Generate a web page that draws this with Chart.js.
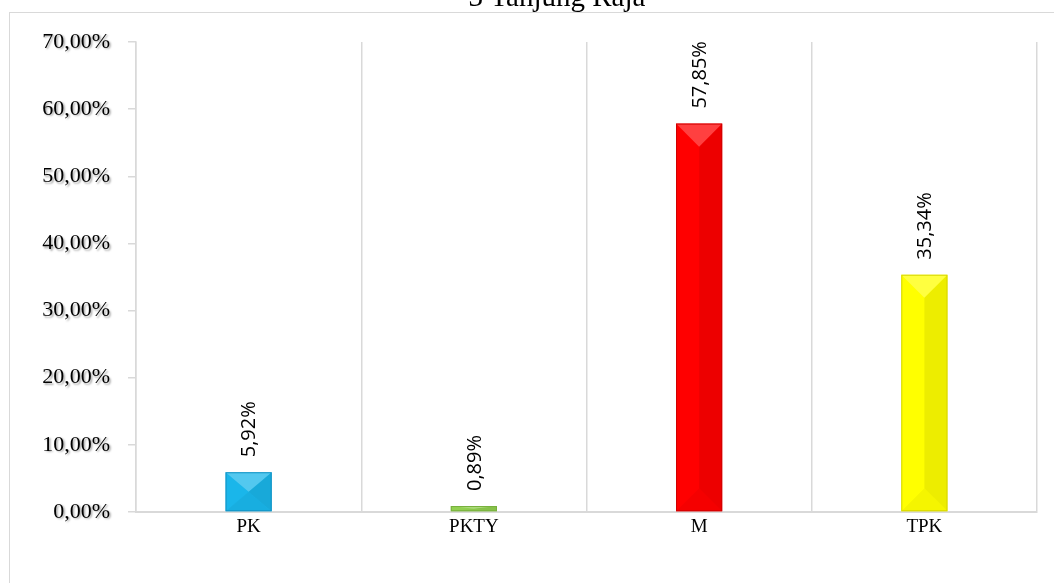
<!DOCTYPE html>
<html>
<head>
<meta charset="utf-8">
<script src="https://cdn.jsdelivr.net/npm/chart.js@4"></script>
<style>
  html, body { margin: 0; padding: 0; background: #fff; overflow: hidden; }
  #wrap { position: absolute; left: 0; top: 0; width: 1054px; height: 583px; }
</style>
</head>
<body>
<div id="wrap"><canvas id="myChart" width="1054" height="583"></canvas></div>
<script>
const labels = ['PK', 'PKTY', 'M', 'TPK'];
const values = [5.92, 0.89, 57.85, 35.34];
const valueLabels = ['5,92%', '0,89%', '57,85%', '35,34%'];
const barColors = ['#1ab6ea', '#92d050', '#ff0000', '#ffff00'];
const barEdges = ['#1392c4', '#77b03e', '#d00000', '#d6d600'];
const titleText = '3 Tanjung Raja';

const fmt = v => v.toFixed(2).replace('.', ',') + '%';

// outer frame + cut-off title
const framePlugin = {
  id: 'frame',
  beforeDraw(chart) {
    const ctx = chart.ctx;
    ctx.save();
    ctx.strokeStyle = '#d9d9d9';
    ctx.lineWidth = 1;
    ctx.strokeRect(9.5, 12.5, 1100, 600);
    ctx.fillStyle = '#000';
    ctx.font = '29px "Liberation Serif", "Times New Roman", serif';
    ctx.textAlign = 'center';
    ctx.textBaseline = 'alphabetic';
    ctx.fillText(titleText, 557, 6);
    ctx.restore();
  },
  afterUpdate(chart) {
    // soft shadow under the y tick labels
    const y = chart.scales.y;
    const base = Object.getPrototypeOf(y).drawLabels;
    y.drawLabels = function (area) {
      const ctx = this.ctx;
      ctx.save();
      ctx.shadowColor = 'rgba(0,0,0,0.35)';
      ctx.shadowOffsetX = 1.5;
      ctx.shadowOffsetY = 1.5;
      ctx.shadowBlur = 2;
      base.call(this, area);
      ctx.restore();
    };
  }
};

// pyramid bevel on each bar + rotated value labels
const bevelPlugin = {
  id: 'bevel',
  afterDatasetsDraw(chart) {
    const ctx = chart.ctx;
    const meta = chart.getDatasetMeta(0);
    meta.data.forEach((bar, i) => {
      const p = bar.getProps(['x', 'y', 'base', 'width'], true);
      const l = p.x - p.width / 2, r = p.x + p.width / 2;
      const t = p.y, b = p.base;
      const d = Math.min(p.width / 2, (b - t) / 2);
      ctx.save();
      // top light triangle
      ctx.fillStyle = 'rgba(255,255,255,0.25)';
      ctx.beginPath();
      ctx.moveTo(l, t); ctx.lineTo(r, t); ctx.lineTo(p.x, t + d); ctx.closePath(); ctx.fill();
      // right darker side
      ctx.fillStyle = 'rgba(0,0,0,0.07)';
      ctx.beginPath();
      ctx.moveTo(r, t); ctx.lineTo(p.x, t + d); ctx.lineTo(p.x, b - d); ctx.lineTo(r, b); ctx.closePath(); ctx.fill();
      // bottom triangle
      ctx.fillStyle = 'rgba(0,0,0,0.04)';
      ctx.beginPath();
      ctx.moveTo(l, b); ctx.lineTo(r, b); ctx.lineTo(p.x, b - d); ctx.closePath(); ctx.fill();
      // edge
      ctx.strokeStyle = barEdges[i];
      ctx.lineWidth = 1;
      ctx.strokeRect(l + 0.5, t + 0.5, p.width - 1, b - t - 1);
      ctx.restore();

      // value label
      ctx.save();
      ctx.translate(p.x, t - 15);
      ctx.rotate(-Math.PI / 2);
      ctx.fillStyle = '#000';
      ctx.font = '20px "Open Sans", "Liberation Sans", sans-serif';
      ctx.textAlign = 'left';
      ctx.textBaseline = 'middle';
      ctx.fillText(valueLabels[i], 0, 1);
      ctx.restore();
    });
  }
};

const data = {
  labels: labels,
  datasets: [{
    data: values,
    backgroundColor: barColors,
    borderWidth: 0,
    barPercentage: 0.41,
    categoryPercentage: 0.5
  }]
};

const config = {
  type: 'bar',
  data,
  options: {
    responsive: false,
    devicePixelRatio: 1,
    animation: false,
    layout: { padding: { left: 0, top: 42, right: 17, bottom: 0 } },
    plugins: {
      legend: { display: false },
      title: { display: false },
      tooltip: { enabled: false }
    },
    scales: {
      x: {
        offset: true,
        grid: {
          offset: true,
          color: '#d9d9d9',
          lineWidth: 1.5,
          drawTicks: false
        },
        border: { color: '#d9d9d9', width: 2 },
        ticks: {
          color: '#000',
          padding: 4,
          font: { family: '"Liberation Serif", "Times New Roman", serif', size: 19 }
        },
        afterFit(scale) { scale.height = 71; }
      },
      y: {
        min: 0,
        max: 70,
        grid: {
          drawOnChartArea: false,
          drawTicks: true,
          tickLength: 8,
          color: '#d9d9d9',
          lineWidth: 1.5
        },
        border: { color: '#d9d9d9', width: 1.5 },
        ticks: {
          stepSize: 10,
          padding: 18,
          color: '#000',
          font: { family: '"Liberation Serif", "Times New Roman", serif', size: 22 },
          callback: v => fmt(v)
        },
        afterFit(scale) { scale.width = 136; }
      }
    }
  },
  plugins: [framePlugin, bevelPlugin]
};

var myChart = new Chart(document.getElementById('myChart'), config);
</script>
</body>
</html>
